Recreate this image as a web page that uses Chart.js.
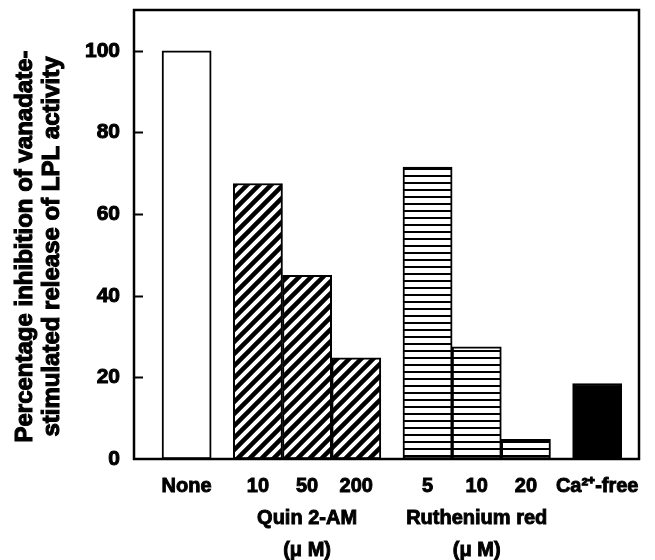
<!DOCTYPE html>
<html>
<head>
<meta charset="utf-8">
<script src="https://cdn.jsdelivr.net/npm/chart.js@4/dist/chart.umd.min.js"></script>
<style>
  html, body { margin: 0; padding: 0; background: #fff; }
</style>
</head>
<body>
<canvas id="myChart" width="655" height="560"></canvas>
<script>
// values
const categories = ["None", "10", "50", "200", "5", "10", "20", "Ca\u00b2\u207a-free"];
const groupNames = ["", "Quin 2-AM", "Ruthenium red", ""];
const groupOfBar = [0, 1, 1, 1, 2, 2, 2, 3];
const unitLabel = "(\u03bc M)";
const inhibition = [100, 67.5, 45, 24.8, 71.5, 27.5, 4.8, 18.5];
const yTicks = [0, 20, 40, 60, 80, 100];
const yTitle = ["Percentage inhibition of vanadate-", "stimulated release of LPL activity"];

const GAP = 0.45; // space between groups, in bar widths
const FONT = "'Liberation Sans', Arial, sans-serif";

const xPos = categories.map((c, i) => i + groupOfBar[i] * GAP);

// tick text: group name + unit go under the middle bar of each group
const tickLabels = categories.map((c, i) => {
  const g = groupOfBar[i];
  const members = groupOfBar.map((gg, j) => gg === g ? j : -1).filter(j => j >= 0);
  if (groupNames[g] && members[Math.floor(members.length / 2)] === i) {
    return [c, groupNames[g], unitLabel];
  }
  return c;
});

function diagPattern() {
  const c = document.createElement("canvas");
  c.width = 12; c.height = 12;
  const g = c.getContext("2d");
  g.fillStyle = "#fff";
  g.fillRect(0, 0, 12, 12);
  g.strokeStyle = "#000";
  g.lineWidth = 4.5;
  g.beginPath();
  g.moveTo(-6, 6); g.lineTo(6, -6);
  g.moveTo(0, 12); g.lineTo(12, 0);
  g.moveTo(6, 18); g.lineTo(18, 6);
  g.stroke();
  return g.createPattern(c, "repeat");
}

function horizPattern() {
  const c = document.createElement("canvas");
  c.width = 4; c.height = 7;
  const g = c.getContext("2d");
  g.fillStyle = "#fff";
  g.fillRect(0, 0, 4, 7);
  g.fillStyle = "#000";
  g.fillRect(0, 0, 4, 2);
  return g.createPattern(c, "repeat");
}

const groupFill = ["#ffffff", diagPattern(), horizPattern(), "#000000"];

// box round the plot, inward ticks, and a heavy rotated y title
const framePlugin = {
  id: "frame",
  afterDraw(chart) {
    const { ctx, chartArea } = chart;
    const y = chart.scales.y;
    ctx.save();
    ctx.strokeStyle = "#000";
    ctx.lineWidth = 2;
    yTicks.forEach(v => {
      if (v === 0) return;
      const py = Math.round(y.getPixelForValue(v)) + 0.5;
      ctx.beginPath();
      ctx.moveTo(chartArea.left, py);
      ctx.lineTo(chartArea.left + 9, py);
      ctx.stroke();
    });
    ctx.lineWidth = 2.5;
    ctx.strokeRect(chartArea.left, chartArea.top, chartArea.right - chartArea.left, chartArea.bottom - chartArea.top);

    ctx.translate(25, (chartArea.top + chartArea.bottom) / 2 + 12);
    ctx.rotate(-Math.PI / 2);
    ctx.font = "bold 24px " + FONT;
    ctx.textAlign = "center";
    ctx.textBaseline = "middle";
    ctx.fillStyle = "#000";
    ctx.lineWidth = 1.1;
    yTitle.forEach((t, i) => {
      ctx.fillText(t, 0, i * 27);
      ctx.strokeText(t, 0, i * 27);
    });
    ctx.restore();
  }
};

const lineData = {
  datasets: [
    {
      data: inhibition.map((v, i) => ({ x: xPos[i], y: v })),
      backgroundColor: groupOfBar.map(g => groupFill[g]),
      borderColor: "#000",
      borderWidth: 2,
      borderSkipped: false,
      barPercentage: 1,
      categoryPercentage: 1,
    },
  ],
};

const config = {
  type: "bar",
  data: lineData,
  plugins: [framePlugin],
  options: {
    responsive: false,
    animation: false,
    devicePixelRatio: 1,
    layout: { padding: { top: 10, right: 16, left: 0, bottom: 0 } },
    plugins: { legend: { display: false }, tooltip: { enabled: false } },
    scales: {
      x: {
        type: "linear",
        min: -1.07,
        max: xPos[xPos.length - 1] + 0.85,
        offset: false,
        grid: { display: false, drawTicks: false, offset: false },
        border: { display: false },
        afterBuildTicks: s => { s.ticks = xPos.map(v => ({ value: v })); },
        afterFit: s => { s.height = 101; s.paddingLeft = 0; s.paddingRight = 0; },
        ticks: {
          autoSkip: false,
          maxRotation: 0,
          padding: 11,
          color: "#000",
          textStrokeColor: "#000",
          textStrokeWidth: 0.9,
          font: { family: FONT, size: 20, weight: "bold", lineHeight: "32px" },
          callback: (v, i) => tickLabels[i],
        },
      },
      y: {
        min: 0,
        max: 110,
        grid: { display: false, drawTicks: false },
        border: { display: false },
        afterBuildTicks: s => { s.ticks = yTicks.map(v => ({ value: v })); },
        afterFit: s => { s.width = 134; s.paddingTop = 0; s.paddingBottom = 0; },
        ticks: {
          padding: 14,
          color: "#000",
          textStrokeColor: "#000",
          textStrokeWidth: 1,
          font: { family: FONT, size: 21, weight: "bold" },
        },
      },
    },
  },
};

let myChart = new Chart(document.getElementById("myChart"), config);
</script>
</body>
</html>
